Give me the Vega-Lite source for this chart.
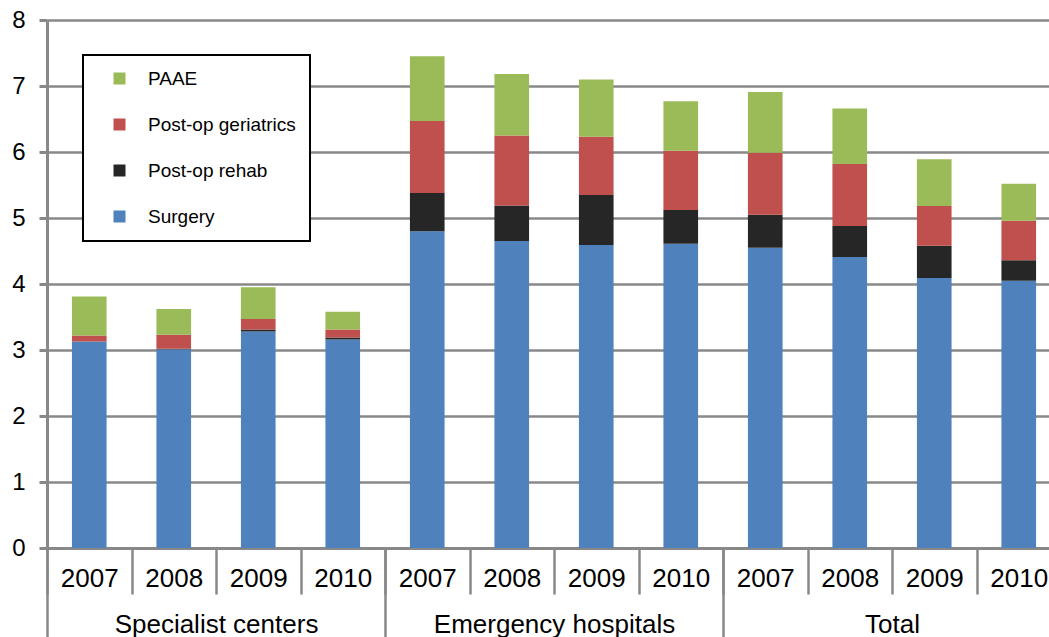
{
  "$schema": "https://vega.github.io/schema/vega-lite/v6.json",
  "autosize": {"type": "none"},
  "width": 1014,
  "height": 528,
  "padding": {"left": 47, "top": 20, "right": -12, "bottom": 89},
  "background": "white",
  "config": {
    "view": {"stroke": null},
    "font": "Liberation Sans",
    "legend": {"strokeWidth": 2}
  },
  "data": {
    "values": [
      {"group": "Specialist centers", "year": "2007", "series": "Surgery", "value": 3.13},
      {"group": "Specialist centers", "year": "2007", "series": "Post-op rehab", "value": 0.0},
      {"group": "Specialist centers", "year": "2007", "series": "Post-op geriatrics", "value": 0.09},
      {"group": "Specialist centers", "year": "2007", "series": "PAAE", "value": 0.59},
      {"group": "Specialist centers", "year": "2008", "series": "Surgery", "value": 3.01},
      {"group": "Specialist centers", "year": "2008", "series": "Post-op rehab", "value": 0.01},
      {"group": "Specialist centers", "year": "2008", "series": "Post-op geriatrics", "value": 0.21},
      {"group": "Specialist centers", "year": "2008", "series": "PAAE", "value": 0.39},
      {"group": "Specialist centers", "year": "2009", "series": "Surgery", "value": 3.28},
      {"group": "Specialist centers", "year": "2009", "series": "Post-op rehab", "value": 0.03},
      {"group": "Specialist centers", "year": "2009", "series": "Post-op geriatrics", "value": 0.16},
      {"group": "Specialist centers", "year": "2009", "series": "PAAE", "value": 0.48},
      {"group": "Specialist centers", "year": "2010", "series": "Surgery", "value": 3.16},
      {"group": "Specialist centers", "year": "2010", "series": "Post-op rehab", "value": 0.03},
      {"group": "Specialist centers", "year": "2010", "series": "Post-op geriatrics", "value": 0.12},
      {"group": "Specialist centers", "year": "2010", "series": "PAAE", "value": 0.27},
      {"group": "Emergency hospitals", "year": "2007", "series": "Surgery", "value": 4.8},
      {"group": "Emergency hospitals", "year": "2007", "series": "Post-op rehab", "value": 0.58},
      {"group": "Emergency hospitals", "year": "2007", "series": "Post-op geriatrics", "value": 1.09},
      {"group": "Emergency hospitals", "year": "2007", "series": "PAAE", "value": 0.98},
      {"group": "Emergency hospitals", "year": "2008", "series": "Surgery", "value": 4.65},
      {"group": "Emergency hospitals", "year": "2008", "series": "Post-op rehab", "value": 0.54},
      {"group": "Emergency hospitals", "year": "2008", "series": "Post-op geriatrics", "value": 1.06},
      {"group": "Emergency hospitals", "year": "2008", "series": "PAAE", "value": 0.93},
      {"group": "Emergency hospitals", "year": "2009", "series": "Surgery", "value": 4.59},
      {"group": "Emergency hospitals", "year": "2009", "series": "Post-op rehab", "value": 0.76},
      {"group": "Emergency hospitals", "year": "2009", "series": "Post-op geriatrics", "value": 0.88},
      {"group": "Emergency hospitals", "year": "2009", "series": "PAAE", "value": 0.87},
      {"group": "Emergency hospitals", "year": "2010", "series": "Surgery", "value": 4.61},
      {"group": "Emergency hospitals", "year": "2010", "series": "Post-op rehab", "value": 0.51},
      {"group": "Emergency hospitals", "year": "2010", "series": "Post-op geriatrics", "value": 0.9},
      {"group": "Emergency hospitals", "year": "2010", "series": "PAAE", "value": 0.75},
      {"group": "Total", "year": "2007", "series": "Surgery", "value": 4.55},
      {"group": "Total", "year": "2007", "series": "Post-op rehab", "value": 0.5},
      {"group": "Total", "year": "2007", "series": "Post-op geriatrics", "value": 0.94},
      {"group": "Total", "year": "2007", "series": "PAAE", "value": 0.92},
      {"group": "Total", "year": "2008", "series": "Surgery", "value": 4.41},
      {"group": "Total", "year": "2008", "series": "Post-op rehab", "value": 0.47},
      {"group": "Total", "year": "2008", "series": "Post-op geriatrics", "value": 0.94},
      {"group": "Total", "year": "2008", "series": "PAAE", "value": 0.84},
      {"group": "Total", "year": "2009", "series": "Surgery", "value": 4.09},
      {"group": "Total", "year": "2009", "series": "Post-op rehab", "value": 0.49},
      {"group": "Total", "year": "2009", "series": "Post-op geriatrics", "value": 0.6},
      {"group": "Total", "year": "2009", "series": "PAAE", "value": 0.71},
      {"group": "Total", "year": "2010", "series": "Surgery", "value": 4.05},
      {"group": "Total", "year": "2010", "series": "Post-op rehab", "value": 0.31},
      {"group": "Total", "year": "2010", "series": "Post-op geriatrics", "value": 0.6},
      {"group": "Total", "year": "2010", "series": "PAAE", "value": 0.56}
    ]
  },
  "resolve": {"scale": {"x": "independent"}, "axis": {"x": "independent"}},
  "layer": [
    {
      "transform": [{"calculate": "datum.group + ' ' + datum.year", "as": "slot"}],
      "mark": {"type": "bar", "width": {"band": 0.41}},
      "encoding": {
        "x": {
          "field": "slot",
          "type": "nominal",
          "sort": null,
          "scale": {"paddingInner": 0, "paddingOuter": 0},
          "axis": {
            "orient": "bottom",
            "title": null,
            "labelAngle": 0,
            "labelExpr": "slice(datum.label, -4)",
            "labelFontSize": 26,
            "labelColor": "#000000",
            "labelBaseline": "middle",
            "labelPadding": -16,
            "tickBand": "extent",
            "tickSize": 46,
            "tickWidth": 2.5,
            "tickColor": "#888888",
            "domainColor": "#888888",
            "domainWidth": 3,
            "grid": false
          }
        },
        "y": {
          "field": "value",
          "type": "quantitative",
          "stack": "zero",
          "scale": {"domain": [0, 8], "nice": false},
          "axis": {
            "title": null,
            "values": [0, 1, 2, 3, 4, 5, 6, 7, 8],
            "labelFontSize": 24,
            "labelColor": "#000000",
            "labelPadding": 14,
            "tickSize": 8,
            "tickWidth": 3,
            "tickColor": "#888888",
            "domainColor": "#888888",
            "domainWidth": 3,
            "grid": true,
            "gridColor": "#888888",
            "gridWidth": 2.5
          }
        },
        "color": {
          "field": "series",
          "type": "nominal",
          "scale": {
            "domain": ["PAAE", "Post-op geriatrics", "Post-op rehab", "Surgery"],
            "range": ["#9BBB59", "#C0504D", "#262626", "#4F81BD"]
          },
          "legend": {
            "title": null,
            "orient": "none",
            "legendX": 36,
            "legendY": 35,
            "strokeColor": "#000000",
            "fillColor": "#ffffff",
            "padding": 14,
            "symbolType": "square",
            "symbolSize": 144,
            "symbolOffset": 13,
            "symbolStrokeWidth": 0,
            "labelFontSize": 19,
            "labelColor": "#000000",
            "labelOffset": 19,
            "labelLimit": 0,
            "rowPadding": 26
          }
        },
        "order": {"field": "series", "sort": "descending"}
      }
    },
    {
      "mark": {"type": "rule", "opacity": 0},
      "encoding": {
        "x": {
          "field": "group",
          "type": "nominal",
          "sort": ["Specialist centers", "Emergency hospitals", "Total"],
          "scale": {"type": "band", "paddingInner": 0, "paddingOuter": 0},
          "axis": {
            "orient": "bottom",
            "title": null,
            "labelAngle": 0,
            "labelFontSize": 26,
            "labelColor": "#000000",
            "labelBaseline": "middle",
            "labelPadding": -13,
            "labelLimit": 0,
            "tickBand": "extent",
            "tickSize": 89,
            "tickWidth": 2.5,
            "tickColor": "#888888",
            "domain": false,
            "grid": false
          }
        }
      }
    }
  ]
}
